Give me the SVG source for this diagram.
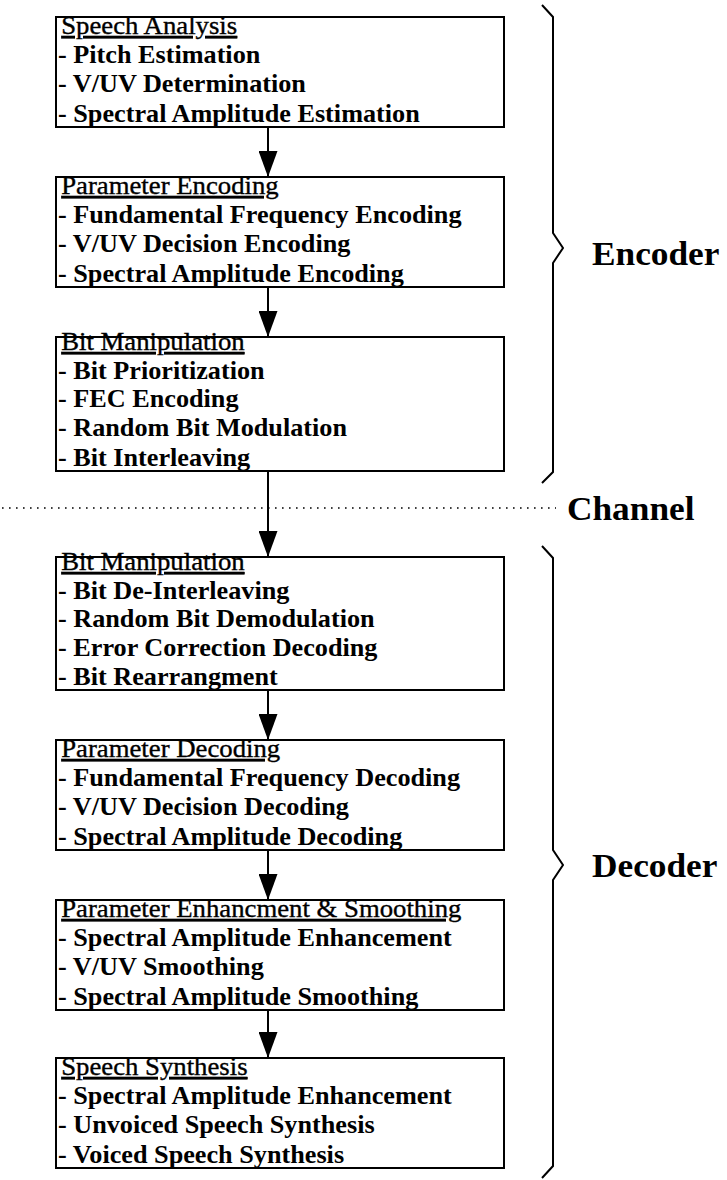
<svg xmlns="http://www.w3.org/2000/svg" width="727" height="1180" viewBox="0 0 727 1180">
  <style>
    .box { fill: #fff; stroke: #000; stroke-width: 2; }
    .t { font-family: "Liberation Serif", "Times New Roman", serif; fill: #000; }
    .title { font-size: 25px; font-weight: normal; text-decoration: underline; stroke: #000; stroke-width: 0.35; }
    .item { font-size: 24.5px; font-weight: bold; }
    .label { font-family: "Liberation Serif", "Times New Roman", serif; font-size: 33px; font-weight: bold; fill: #000; }
    .flow { stroke: #000; stroke-width: 2; fill: none; }
    .brace { stroke: #000; stroke-width: 2; fill: none; stroke-linejoin: miter; }
    .channel { stroke: #000; stroke-width: 1.6; stroke-dasharray: 1.6 5.4; fill: none; }
  </style>
  <defs>
    <marker id="head" viewBox="0 0 26 19" refX="26" refY="9.5" markerWidth="26" markerHeight="19" markerUnits="userSpaceOnUse" orient="auto">
      <path d="M0,0 L26,9.5 L0,19 Z" fill="#000"/>
    </marker>
  </defs>

  <rect width="727" height="1180" fill="#fff"/>

  <!-- connectors -->
  <g id="connectors">
    <line class="flow" x1="268" y1="127" x2="268" y2="177" marker-end="url(#head)"/>
    <line class="flow" x1="268" y1="287" x2="268" y2="337" marker-end="url(#head)"/>
    <line class="flow" x1="268" y1="471" x2="268" y2="557" marker-end="url(#head)"/>
    <line class="flow" x1="268" y1="690" x2="268" y2="740" marker-end="url(#head)"/>
    <line class="flow" x1="268" y1="850" x2="268" y2="900" marker-end="url(#head)"/>
    <line class="flow" x1="268" y1="1010" x2="268" y2="1058" marker-end="url(#head)"/>
  </g>

  <!-- channel boundary -->
  <line id="channel-line" class="channel" x1="2" y1="508" x2="556" y2="508"/>

  <!-- encoder -->
  <g id="speech-analysis">
    <rect class="box" x="56" y="17" width="448" height="110"/>
    <g class="t" transform="translate(58,0) scale(1.07,1)">
      <text class="title" x="3" y="34">Speech Analysis</text>
      <text class="item" x="0" y="63">- Pitch Estimation</text>
      <text class="item" x="0" y="92">- V/UV Determination</text>
      <text class="item" x="0" y="122">- Spectral Amplitude Estimation</text>
    </g>
  </g>

  <g id="parameter-encoding">
    <rect class="box" x="56" y="177" width="448" height="110"/>
    <g class="t" transform="translate(58,0) scale(1.07,1)">
      <text class="title" x="3" y="194">Parameter Encoding</text>
      <text class="item" x="0" y="223">- Fundamental Frequency Encoding</text>
      <text class="item" x="0" y="252">- V/UV Decision Encoding</text>
      <text class="item" x="0" y="282">- Spectral Amplitude Encoding</text>
    </g>
  </g>

  <g id="bit-manipulation-enc">
    <rect class="box" x="56" y="337" width="448" height="134"/>
    <g class="t" transform="translate(58,0) scale(1.07,1)">
      <text class="title" x="3" y="350">Bit Manipulation</text>
      <text class="item" x="0" y="379">- Bit Prioritization</text>
      <text class="item" x="0" y="407">- FEC Encoding</text>
      <text class="item" x="0" y="436">- Random Bit Modulation</text>
      <text class="item" x="0" y="466">- Bit Interleaving</text>
    </g>
  </g>

  <!-- decoder -->
  <g id="bit-manipulation-dec">
    <rect class="box" x="56" y="557" width="448" height="133"/>
    <g class="t" transform="translate(58,0) scale(1.07,1)">
      <text class="title" x="3" y="570">Bit Manipulation</text>
      <text class="item" x="0" y="599">- Bit De-Interleaving</text>
      <text class="item" x="0" y="627">- Random Bit Demodulation</text>
      <text class="item" x="0" y="656">- Error Correction Decoding</text>
      <text class="item" x="0" y="685">- Bit Rearrangment</text>
    </g>
  </g>

  <g id="parameter-decoding">
    <rect class="box" x="56" y="740" width="448" height="110"/>
    <g class="t" transform="translate(58,0) scale(1.07,1)">
      <text class="title" x="3" y="757">Parameter Decoding</text>
      <text class="item" x="0" y="786">- Fundamental Frequency Decoding</text>
      <text class="item" x="0" y="815">- V/UV Decision Decoding</text>
      <text class="item" x="0" y="845">- Spectral Amplitude Decoding</text>
    </g>
  </g>

  <g id="enhancement-smoothing">
    <rect class="box" x="56" y="900" width="448" height="110"/>
    <g class="t" transform="translate(58,0) scale(1.07,1)">
      <text class="title" x="3" y="917">Parameter Enhancment &amp; Smoothing</text>
      <text class="item" x="0" y="946">- Spectral Amplitude Enhancement</text>
      <text class="item" x="0" y="975">- V/UV Smoothing</text>
      <text class="item" x="0" y="1005">- Spectral Amplitude Smoothing</text>
    </g>
  </g>

  <g id="speech-synthesis">
    <rect class="box" x="56" y="1058" width="448" height="110"/>
    <g class="t" transform="translate(58,0) scale(1.07,1)">
      <text class="title" x="3" y="1075">Speech Synthesis</text>
      <text class="item" x="0" y="1104">- Spectral Amplitude Enhancement</text>
      <text class="item" x="0" y="1133">- Unvoiced Speech Synthesis</text>
      <text class="item" x="0" y="1163">- Voiced Speech Synthesis</text>
    </g>
  </g>

  <!-- grouping braces and side labels -->
  <g id="encoder-brace">
    <path class="brace" d="M542,5 L553,17 L553,233 L563,248 L553,263 L553,472 L542,483"/>
    <text class="label" transform="translate(592,265) scale(1.07,1)">Encoder</text>
  </g>

  <g id="channel-label">
    <text class="label" transform="translate(567,520) scale(1.07,1)">Channel</text>
  </g>

  <g id="decoder-brace">
    <path class="brace" d="M542,546 L553,558 L553,850 L563,865 L553,880 L553,1166 L542,1178"/>
    <text class="label" transform="translate(592,877) scale(1.07,1)">Decoder</text>
  </g>
</svg>
